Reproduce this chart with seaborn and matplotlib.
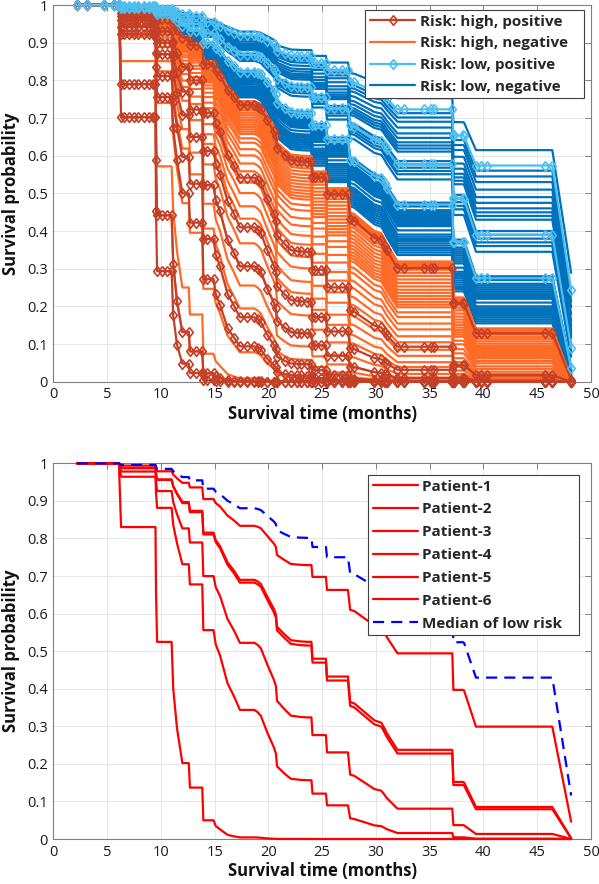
import numpy as np
import pandas as pd
import matplotlib
matplotlib.use("Agg")
import matplotlib.pyplot as plt
import seaborn as sns
from matplotlib.lines import Line2D
from matplotlib.ticker import MultipleLocator, FuncFormatter

# ---- data ---------------------------------------------------------------
# time points (months) shared by all curves
time_months = [2.2, 3.1, 4.7, 5.6, 6.1, 6.3, 6.6, 7.0, 7.5, 7.9, 8.4, 8.9, 9.3, 9.5,
               9.55, 9.65, 10.1, 10.6, 11.0, 11.15, 11.5, 12.0, 12.6, 12.7, 13.3, 13.85,
               13.95, 14.3, 14.9, 15.1, 15.5, 16.2, 16.8, 17.35, 18.0, 18.7, 19.0, 19.3,
               19.9, 20.5, 20.7, 20.8, 21.5, 22.1, 22.7, 23.0, 23.6, 24.0, 24.1, 24.3,
               24.9, 25.35, 25.45, 26.1, 26.8, 27.4, 27.6, 28.0, 29.85, 30.5, 30.8, 31.0,
               32.0, 32.65, 34.5, 35.1, 35.4, 37.1, 37.2, 37.3, 38.1, 38.2, 39.3, 39.8,
               40.3, 45.7, 46.4, 48.15]
# cumulative hazard of the reference curve (Patient-1) at those time points
ref_cum_hazard = [0, 0, 0, 0, 0, 0.0062, 0.0062, 0.0062, 0.0062, 0.0062, 0.0062, 0.0062,
                  0.0062, 0.0062, 0.0139, 0.0215, 0.0215, 0.0215, 0.0215, 0.0305, 0.0407,
                  0.0533, 0.0533, 0.0663, 0.0663, 0.0663, 0.100, 0.100, 0.100, 0.112,
                  0.122, 0.150, 0.165, 0.182, 0.182, 0.182, 0.185, 0.19, 0.215, 0.240,
                  0.252, 0.28, 0.298, 0.312, 0.314, 0.315, 0.316, 0.316, 0.36, 0.36, 0.36,
                  0.36, 0.411, 0.411, 0.411, 0.411, 0.494, 0.50, 0.565, 0.575, 0.60, 0.62,
                  0.705, 0.705, 0.705, 0.705, 0.705, 0.705, 0.924, 0.924, 0.924, 0.93,
                  1.207, 1.207, 1.207, 1.207, 1.207, 3.08]

# relative risk of each curve versus the reference curve
hr_high_positive = [57, 38, 13, 9.7, 6.5, 4.9, 3.37, 1.70]
hr_high_negative = [38, 26, 14, 9, 7.5, 6.5, 5.5, 4.6, 4.2, 3.8, 3.5, 3.2, 3.0, 2.8, 2.65,
                    2.5, 2.4, 2.3, 2.25, 2.2, 2.15, 2.1, 2.05, 2.0, 1.95, 1.9, 1.85, 1.8,
                    1.76, 1.72, 1.70, 1.68, 1.67, 1.66, 1.65, 1.64, 1.63, 1.62]
hr_low_positive = [0.46, 0.78, 1.07]
hr_low_negative = [0.403, 0.480, 0.503, 0.526, 0.558, 0.591, 0.617, 0.643, 0.662, 0.680,
                   0.699, 0.759, 0.780, 0.802, 0.824, 0.846, 0.882, 1.055, 1.070, 1.085,
                   1.116, 1.132, 1.149, 1.165, 1.182, 1.200, 1.218, 1.236, 1.254, 1.293,
                   1.333, 1.354, 1.376, 1.398, 1.421, 1.444, 1.468, 1.493, 1.518, 1.545]

patient_labels = ["Patient-1", "Patient-2", "Patient-3", "Patient-4", "Patient-5", "Patient-6"]
hr_patients = [1.0, 2.04, 2.10, 3.57, 5.87, 30.0]
hr_median_low = 0.70
median_label = "Median of low risk"

group_labels = ["Risk: high, positive", "Risk: high, negative",
                "Risk: low, positive", "Risk: low, negative"]

# ---- style ----------------------------------------------------------------
C_HP = "#C33F27"
C_HN = "#FF6A26"
C_LP = "#4DBEEE"
C_LN = "#0072BD"
AX_GRAY = "#808080"
FONT = ['Open Sans', 'DejaVu Sans']

sns.set_theme(style="white")
plt.rcParams['font.family'] = FONT

DIAMOND = [(0, 1), (0.78, 0), (0, -1), (-0.78, 0), (0, 1)]


def curve_frame(hrs, prefix):
    H = np.asarray(ref_cum_hazard, dtype=float)
    frames = []
    for i, r in enumerate(hrs):
        frames.append(pd.DataFrame({"t": time_months, "s": np.exp(-r * H),
                                    "unit": f"{prefix}{i}"}))
    return pd.concat(frames, ignore_index=True)


fig = plt.figure(figsize=(5.99, 8.84), dpi=100)
ax1 = fig.add_axes([0.089, 0.5682, 0.8977, 0.4261])
ax2 = fig.add_axes([0.089, 0.0509, 0.8977, 0.4250])

LW = 1.6
MS = 7
MEW = 1.2
DASH = (0, (5.0, 3.2))

# top panel
sns.lineplot(data=curve_frame(hr_low_negative, "ln"), x="t", y="s", units="unit",
             estimator=None, color=C_LN, lw=LW, ax=ax1, legend=False, zorder=2,
             clip_on=False)
sns.lineplot(data=curve_frame(hr_high_negative, "hn"), x="t", y="s", units="unit",
             estimator=None, color=C_HN, lw=LW, ax=ax1, legend=False, zorder=3,
             clip_on=False)
sns.lineplot(data=curve_frame(hr_high_positive, "hp"), x="t", y="s", units="unit",
             estimator=None, color=C_HP, lw=LW, ax=ax1, legend=False, zorder=4,
             marker=DIAMOND, markersize=MS, markerfacecolor="none", markeredgecolor=C_HP,
             markeredgewidth=MEW, clip_on=False)
sns.lineplot(data=curve_frame(hr_low_positive, "lp"), x="t", y="s", units="unit",
             estimator=None, color=C_LP, lw=LW, ax=ax1, legend=False, zorder=5,
             marker=DIAMOND, markersize=MS, markerfacecolor="none", markeredgecolor=C_LP,
             markeredgewidth=MEW, clip_on=False)

handles1 = [
    Line2D([], [], color=C_HP, lw=LW, marker=DIAMOND, ms=MS, mfc="none", mec=C_HP, mew=MEW),
    Line2D([], [], color=C_HN, lw=LW),
    Line2D([], [], color=C_LP, lw=LW, marker=DIAMOND, ms=MS, mfc="none", mec=C_LP, mew=MEW),
    Line2D([], [], color=C_LN, lw=LW),
]
PAD = "   "  # MATLAB-style extra room on the right of legend labels
LEG_KW = dict(loc="upper right", borderaxespad=0, frameon=True, fancybox=False,
              framealpha=1, edgecolor="#404040",
              prop={"family": FONT, "weight": "bold", "size": 11},
              handlelength=2.95, handletextpad=0.3, borderpad=0.3)
leg1 = ax1.legend(handles1, [g + PAD for g in group_labels],
                  bbox_to_anchor=(0.9875, 0.9867), labelspacing=0.5, **LEG_KW)
leg1.get_frame().set_linewidth(0.8)

# bottom panel
pat_frames = []
for lab, r in zip(patient_labels, hr_patients):
    H = np.asarray(ref_cum_hazard, dtype=float)
    pat_frames.append(pd.DataFrame({"t": time_months, "s": np.exp(-r * H), "unit": lab}))
pat_df = pd.concat(pat_frames, ignore_index=True)
sns.lineplot(data=pat_df, x="t", y="s", units="unit", estimator=None, color="#FF0000",
             lw=LW, ax=ax2, legend=False, zorder=3, clip_on=False)
med_df = curve_frame([hr_median_low], "med")
sns.lineplot(data=med_df, x="t", y="s", units="unit", estimator=None, color="#0000FF",
             lw=LW, ax=ax2, legend=False, zorder=4, clip_on=False, linestyle=DASH)

handles2 = [Line2D([], [], color="#FF0000", lw=LW) for _ in patient_labels]
handles2.append(Line2D([], [], color="#0000FF", lw=LW, linestyle=DASH))
leg2 = ax2.legend(handles2, [p + PAD for p in patient_labels + [median_label]],
                  bbox_to_anchor=(0.9777, 0.969), labelspacing=0.58, **LEG_KW)
leg2.get_frame().set_linewidth(0.8)
leg2.set_zorder(10)

for ax in (ax1, ax2):
    ax.set_xlim(0, 50)
    ax.set_ylim(0, 1)
    ax.xaxis.set_major_locator(MultipleLocator(5))
    ax.yaxis.set_major_locator(MultipleLocator(0.1))
    ax.yaxis.set_major_formatter(FuncFormatter(lambda v, p: f"{v:g}"))
    ax.xaxis.set_major_formatter(FuncFormatter(lambda v, p: f"{v:g}"))
    ax.grid(True, color="#e2e2e2", lw=0.6)
    ax.set_axisbelow(True)
    for sp in ax.spines.values():
        sp.set_color(AX_GRAY)
        sp.set_linewidth(0.8)
        sp.set_visible(True)
    ax.tick_params(direction="in", top=True, right=True, length=4, width=0.7,
                   color=AX_GRAY, labelsize=10.5, labelcolor="#1a1a1a", pad=4)
    ax.set_xlabel("Survival time (months)", fontsize=12, fontweight="bold",
                  color="#111111", labelpad=2)
    ax.set_ylabel("Survival probability", fontsize=12, fontweight="bold",
                  color="#111111", labelpad=5)

fig.savefig("out.png", dpi=100)
